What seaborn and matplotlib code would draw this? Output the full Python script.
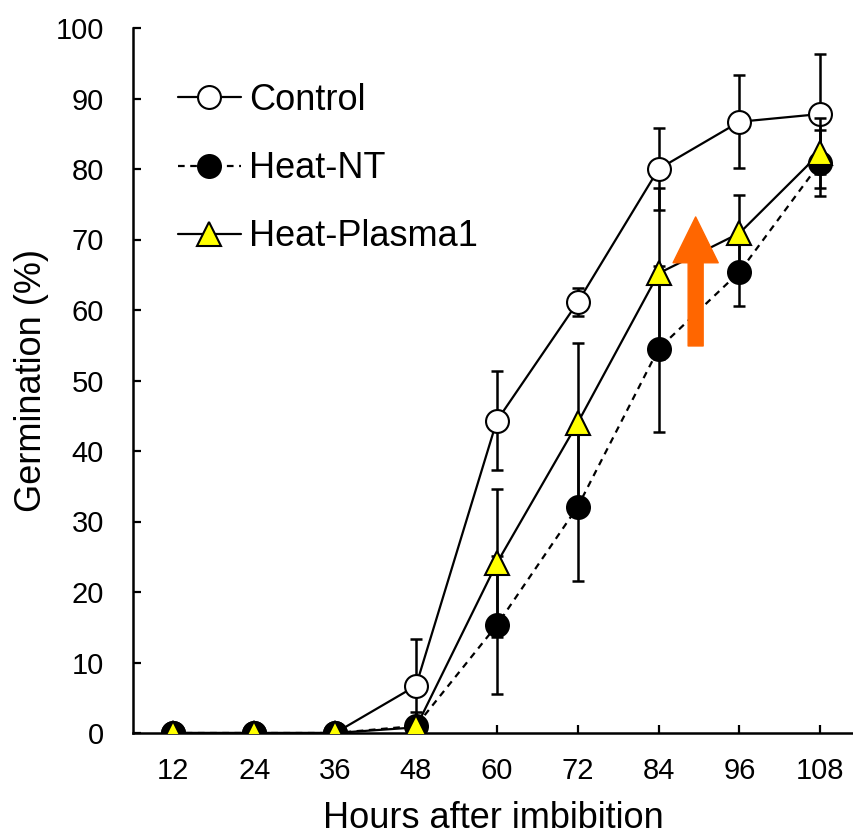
import matplotlib
matplotlib.use("Agg")
import matplotlib.pyplot as plt
import seaborn as sns
import pandas as pd

# data
hours = [12, 24, 36, 48, 60, 72, 84, 96, 108]
control = [0, 0, 0, 6.7, 44.3, 61.1, 80.0, 86.7, 87.8]
control_err = [0, 0, 0, 6.6, 7.0, 2.0, 5.8, 6.6, 8.5]
heat_nt = [0, 0, 0, 1.0, 15.3, 32.1, 54.5, 65.4, 80.9]
heat_nt_err = [0, 0, 0, 2.0, 9.8, 10.5, 11.8, 4.8, 4.7]
plasma = [0, 0, 0, 0.8, 24.1, 44.0, 65.2, 70.9, 82.3]
plasma_err = [0, 0, 0, 0, 10.5, 11.3, 12.1, 5.4, 5.0]
series_names = ["Control", "Heat-NT", "Heat-Plasma1"]

sns.set_style("ticks")
plt.rcParams['font.family'] = ['Liberation Sans', 'DejaVu Sans']
plt.rcParams['text.color'] = 'black'
plt.rcParams['axes.labelcolor'] = 'black'
plt.rcParams['xtick.color'] = 'black'
plt.rcParams['ytick.color'] = 'black'
plt.rcParams['axes.edgecolor'] = 'black'
plt.rcParams['xtick.direction'] = 'in'
plt.rcParams['ytick.direction'] = 'in'

fig = plt.figure(figsize=(8.54, 8.35), dpi=100)
ax = fig.add_axes([133 / 854, 102 / 835, 721 / 854, 705 / 835])

styles = [
    dict(marker="o", ls="-", mfc="white", ms=16.5),
    dict(marker="o", ls=(0, (3, 2.5)), mfc="black", ms=16.5),
    dict(marker="^", ls="-", mfc="#ffff00", ms=17.5),
]
values = [control, heat_nt, plasma]
errors = [control_err, heat_nt_err, plasma_err]

for i, (name, vals, errs, st) in enumerate(zip(series_names, values, errors, styles)):
    df = pd.DataFrame({"hours": hours, "germ": vals})
    ax.errorbar(hours, vals, yerr=errs, fmt="none", ecolor="black",
                elinewidth=1.8, capsize=4.5, capthick=1.8, zorder=2 + i * 2)
    sns.lineplot(data=df, x="hours", y="germ", ax=ax, color="black",
                 linewidth=1.6, linestyle=st["ls"], marker=st["marker"],
                 markersize=st["ms"], markerfacecolor=st["mfc"],
                 markeredgecolor="black", markeredgewidth=1.5,
                 label=name, zorder=3 + i * 2)

# orange arrow
ax.annotate("", xy=(89.5, 73.2), xytext=(89.5, 54.9),
            arrowprops=dict(arrowstyle="simple,head_length=3.3,head_width=3.25,tail_width=1.08",
                            color="#ff6600", shrinkA=0, shrinkB=0, mutation_scale=10),
            zorder=10)

ax.set_xlim(6, 113)
ax.set_ylim(0, 100)
ax.set_xticks(hours)
ax.set_yticks(range(0, 101, 10))
ax.tick_params(direction="in", length=6, width=1.6, labelsize=21)
ax.tick_params(axis="y", pad=21)
ax.tick_params(axis="x", pad=17)
for s in ["top", "right"]:
    ax.spines[s].set_visible(False)
for s in ["left", "bottom"]:
    ax.spines[s].set_linewidth(1.8)

ax.set_xlabel("Hours after imbibition", fontsize=26, labelpad=12)
ax.set_ylabel("Germination (%)", fontsize=26, labelpad=5)

ax.legend(loc="upper left", bbox_to_anchor=(0.062, 0.922), frameon=False,
          fontsize=26, handlelength=1.75, handletextpad=0.22, labelspacing=0.92,
          borderpad=0, borderaxespad=0)

fig.savefig("out.png", dpi=100)
